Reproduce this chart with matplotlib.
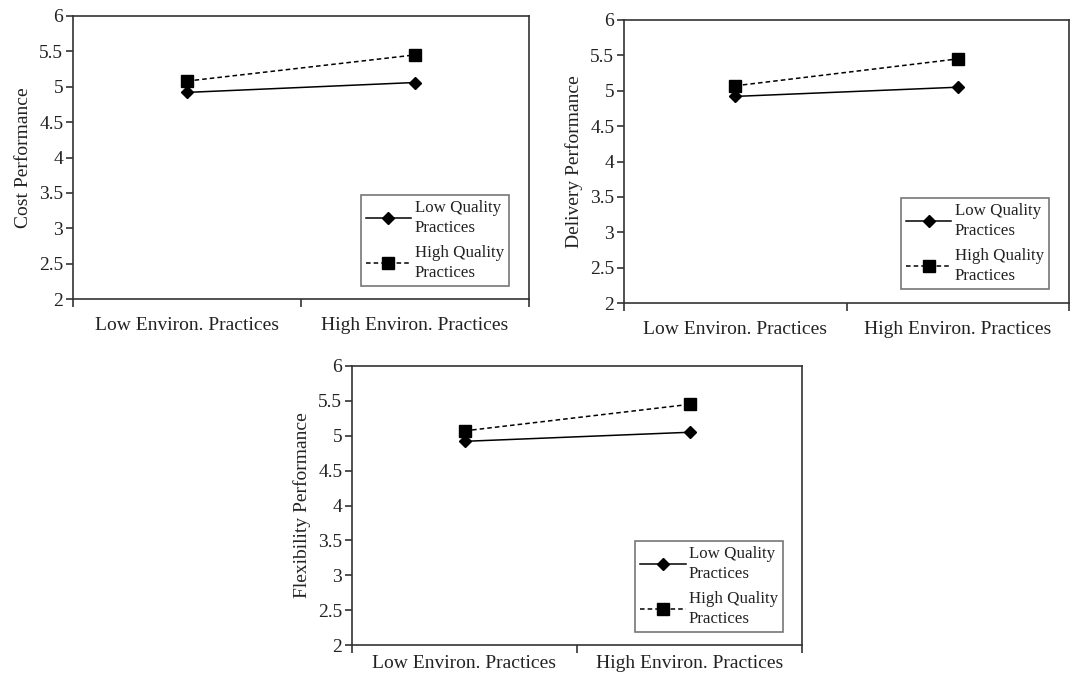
import matplotlib
matplotlib.use("Agg")
import matplotlib.pyplot as plt

plt.rcParams['font.family'] = ['Liberation Serif', 'DejaVu Serif']

categories = ["Low Environ. Practices", "High Environ. Practices"]
series_names = ["Low Quality\nPractices", "High Quality\nPractices"]
yticks = [2, 2.5, 3, 3.5, 4, 4.5, 5, 5.5, 6]
ytick_labels = ["2", "2.5", "3", "3.5", "4", "4.5", "5", "5.5", "6"]

cost_low = [4.92, 5.06]
cost_high = [5.08, 5.45]
delivery_low = [4.92, 5.05]
delivery_high = [5.07, 5.45]
flex_low = [4.92, 5.05]
flex_high = [5.07, 5.45]

panels = [
    ("Cost Performance", cost_low, cost_high, [73/1070, 1-299/675, 456/1070, 283/675], (0.956, 0.046), 13),
    ("Delivery Performance", delivery_low, delivery_high, [624/1070, 1-303/675, 445/1070, 283/675], (0.955, 0.049), 13),
    ("Flexibility Performance", flex_low, flex_high, [352/1070, 1-645/675, 450/1070, 279/675], (0.958, 0.047), 7),
]

fig = plt.figure(figsize=(10.7, 6.75), dpi=100)
edge = "#333333"
txt = "#222222"
for ylabel, low, high, rect, anchor, xpad in panels:
    ax = fig.add_axes(rect)
    x = list(range(len(categories)))
    ax.plot(x, low, color="black", lw=1.1, marker="D", markersize=6,
            label=series_names[0])
    ax.plot(x, high, color="black", lw=1.1, ls=(0, (3, 2)), marker="s",
            markersize=8, label=series_names[1])
    ax.set_xlim(-0.5, 1.5)
    ax.set_ylim(2, 6)
    ax.set_yticks(yticks)
    ax.set_yticklabels(ytick_labels, fontsize=14, color=txt)
    ax.set_xticks([-0.5, 0.5, 1.5])
    ax.set_xticklabels([])
    ax.set_xticks(x, minor=True)
    ax.set_xticklabels(categories, minor=True, fontsize=14, color=txt)
    ax.tick_params(axis="x", which="minor", length=0, pad=xpad)
    ax.tick_params(axis="x", which="major", length=6, direction="out", color=edge, width=1.2)
    ax.tick_params(axis="y", length=5, direction="out", color=edge, width=1.2, pad=2)
    for s in ax.spines.values():
        s.set_color(edge)
        s.set_linewidth(1.2)
    ax.set_ylabel(ylabel, fontsize=14, color=txt, labelpad=5)
    leg = ax.legend(loc="lower right", bbox_to_anchor=anchor, fontsize=12.2,
                    frameon=True, fancybox=False, edgecolor="#555555",
                    handlelength=2.7, handletextpad=0.2, borderpad=0.3,
                    labelspacing=0.5, borderaxespad=0)
    leg.get_frame().set_linewidth(1.2)
    for t in leg.get_texts():
        t.set_color(txt)
        t.set_linespacing(1.35)

fig.savefig("out.png", dpi=100)
